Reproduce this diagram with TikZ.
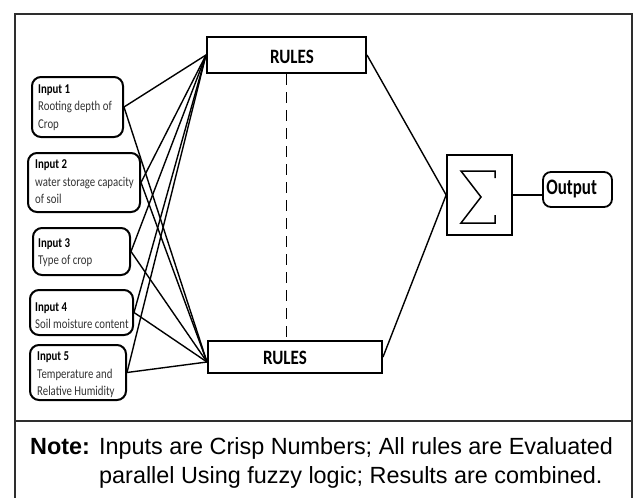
\documentclass[tikz,border=0pt]{standalone}
\usepackage{fontspec}
\usepackage{graphicx}
\setmainfont{Liberation Sans}
\newfontfamily\carlito{Carlito}
\usetikzlibrary{calc}
\definecolor{framegray}{HTML}{2E2E2E}
\definecolor{bodygray}{HTML}{333333}
\newcommand{\tallin}[1]{\scalebox{1}[1.25]{\begin{tabular}{@{}l@{}}#1\end{tabular}}}
\begin{document}
\begin{tikzpicture}[x=1pt,y=-1pt,
  inbox/.style={draw, line width=2pt, rounded corners=9pt, inner sep=0pt},
  intext/.style={anchor=west, inner sep=0pt, text=bodygray,
    font=\carlito\fontsize{10.8}{14}\selectfont},
  rulebox/.style={draw, line width=2pt, inner sep=0pt},
  rulelabel/.style={inner sep=0pt, font=\carlito\bfseries\fontsize{17}{20}\selectfont},
  conn/.style={line width=1.4pt},
  framestyle/.style={draw=framegray, line width=1.5pt},
  notefont/.style={inner sep=0pt, anchor=base west, font=\fontsize{23.4}{29}\selectfont}
]
\useasboundingbox (0,0) rectangle (633,498);

% frame
\draw[framestyle] (15,498) -- (15,14) -- (632,14) -- (632,498);
\draw[framestyle, line width=1.8pt] (15,421) -- (632,421);

% inputs
\node[inbox, minimum width=91pt, minimum height=60pt] (in1) at (77.5,107) {};
\node[intext] (in1t) at ($(in1.west)+(7,0)$)
  {\tallin{\textbf{\color{black}Input 1}\\Rooting depth of\\Crop}};
\node[inbox, minimum width=112pt, minimum height=59pt] (in2) at (84,182.5) {};
\node[intext] (in2t) at ($(in2.west)+(8,0)$)
  {\tallin{\textbf{\color{black}Input 2}\\water storage capacity\\of soil}};
\node[inbox, minimum width=97pt, minimum height=47pt] (in3) at (81.5,251.5) {};
\node[intext] (in3t) at ($(in3.west)+(6,1)$)
  {\tallin{\textbf{\color{black}Input 3}\\Type of crop}};
\node[inbox, minimum width=103pt, minimum height=45pt] (in4) at (81.5,312.5) {};
\node[intext] (in4t) at ($(in4.west)+(6,4)$)
  {\tallin{\textbf{\color{black}Input 4}\\Soil moisture content}};
\node[inbox, minimum width=96pt, minimum height=55pt] (in5) at (78,372.5) {};
\node[intext] (in5t) at ($(in5.west)+(8,2)$)
  {\tallin{\textbf{\color{black}Input 5}\\Temperature and\\Relative Humidity}};

% rules boxes
\node[rulebox, minimum width=159pt, minimum height=36pt] (r1) at (286.5,55) {};
\node[rulelabel] (r1lbl) at (292,57) {\scalebox{1}[1.2]{RULES}};
\node[rulebox, minimum width=174pt, minimum height=32pt] (r2) at (295,357) {};
\node[rulelabel] (r2lbl) at (285,358) {\scalebox{1}[1.2]{RULES}};

\coordinate (ct) at (r1.west);
\coordinate (cb) at ($(r2.west)+(0,5)$);

% dashed link
\draw[line width=1.1pt, dash pattern=on 11pt off 7pt] (r1.south) -- (r1.south |- r2.north);

% connections inputs -> rules
\foreach \i in {1,...,5}{
  \draw[conn] (in\i.east) -- (ct);
  \draw[conn] (in\i.east) -- (cb);
}

% summation
\node[draw, line width=1.7pt, minimum width=65pt, minimum height=80pt, inner sep=0pt] (sig) at (479.5,195) {};
\coordinate (sgc) at (478,197);
\draw[line width=1.5pt, miter limit=20] ($(sgc)+(17,-19)$) -- ++(0,-7) -- ++(-34,0)
  -- ++(20,26) -- ++(-20,26) -- ++(34,0) -- ++(0,-8);

\draw[conn] (r1.east) -- (sig.west);
\draw[conn] (r2.east) -- (sig.west);

% output
\node[draw, line width=1.8pt, rounded corners=8pt, minimum width=69pt, minimum height=35pt,
  inner sep=0pt] (out) at (577.5,189.5) {};
\node[rulelabel, anchor=west] (outlbl) at ($(out.west)+(4,-1)$) {\scalebox{1}[1.3]{Output}};
\draw[conn] (sig.east) -- (sig.east -| out.west);

% note
\node[notefont, font=\bfseries\fontsize{23.4}{29}\selectfont] (notelbl) at (30,454) {Note:};
\node[notefont] (note1) at (99,454) {Inputs are Crisp Numbers; All rules are Evaluated};
\node[notefont] (note2) at (99,483) {parallel Using fuzzy logic; Results are combined.};
\end{tikzpicture}
\end{document}
